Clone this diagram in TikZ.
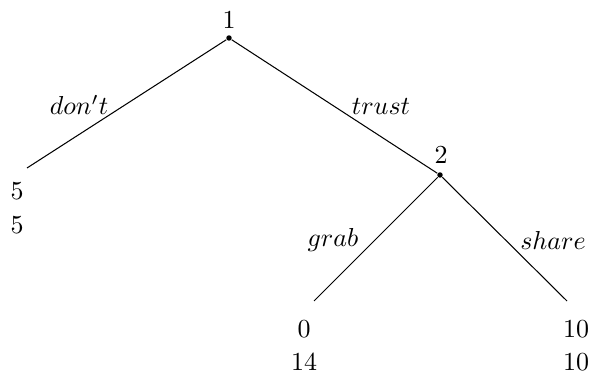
\documentclass[tikz,border=0pt]{standalone}
\begin{document}
\begin{tikzpicture}[x=0.385pt,y=-0.385pt,
  dotnode/.style={circle,fill=black,inner sep=0pt,minimum size=2.1pt},
  lbl/.style={inner sep=0pt}]
\useasboundingbox (0,0) rectangle (593,380);
\node[dotnode] (n1) at (229,38) {};
\node[dotnode] (n2) at (440,175) {};
\coordinate (l1) at (27,168);
\coordinate (l2) at (314,301);
\coordinate (l3) at (567,301);
\draw (n1) -- (l1);
\draw (n1) -- (n2);
\draw (n2) -- (l2);
\draw (n2) -- (l3);
\node[lbl] (t1) at (229,20) {$1$};
\node[lbl] (t2) at (441,155) {$2$};
\node[lbl] (a1) at (79,105) {$don't$};
\node[lbl] (a2) at (381,107) {$trust$};
\node[lbl] (a3) at (333,240) {$grab$};
\node[lbl] (a4) at (553,240) {$share$};
\node[lbl] (p1a) at (17,191) {$5$};
\node[lbl] (p1b) at (17,225) {$5$};
\node[lbl] (p2a) at (304,329) {$0$};
\node[lbl] (p2b) at (304,362) {$14$};
\node[lbl] (p3a) at (576,329) {$10$};
\node[lbl] (p3b) at (576,362) {$10$};
\end{tikzpicture}
\end{document}
